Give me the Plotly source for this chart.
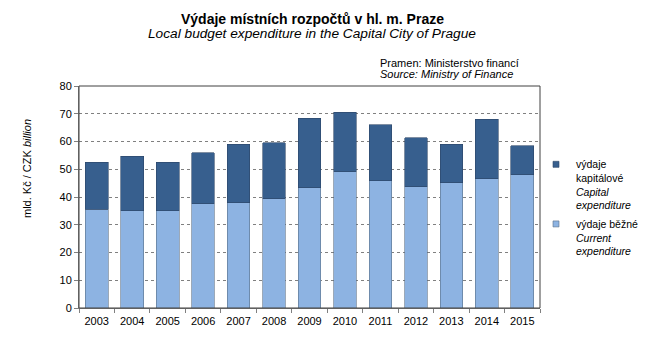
import plotly.graph_objects as go

years = [str(y) for y in range(2003, 2016)]
current = [35.5, 35.1, 35.1, 37.6, 38.0, 39.4, 43.4, 49.1, 45.9, 43.7, 45.2, 46.6, 48.1]
total = [52.6, 54.7, 52.6, 55.9, 59.1, 59.5, 68.3, 70.6, 66.0, 61.3, 59.1, 68.1, 58.4]
capital = [round(t - c, 1) for t, c in zip(total, current)]

name_current = "výdaje běžné<br><i>Current</i><br><i>expenditure</i>"
name_capital = "výdaje<br>kapitálové<br><i>Capital</i><br><i>expenditure</i>"

FONT = "Liberation Sans, Arial, sans-serif"
DARK = "#375F8E"
LIGHT = "#8DB3E2"

W, H = 646, 342
ML, MR, MT, MB = 79, 106, 86, 34

fig = go.Figure()
fig.add_trace(go.Bar(x=years, y=current, name=name_current, showlegend=False,
                     marker=dict(color=LIGHT, line=dict(color="#5a6f88", width=0.6))))
fig.add_trace(go.Bar(x=years, y=capital, name=name_capital, showlegend=False,
                     marker=dict(color=DARK, line=dict(color="#2b4466", width=0.6))))
# legend entries (small square symbols like the reference)
fig.add_trace(go.Scatter(x=[None], y=[None], mode="markers", name=name_capital, legendgroup="a",
                         marker=dict(symbol="square", size=6, color=DARK, line=dict(color="#2b4466", width=0.6))))
fig.add_trace(go.Scatter(x=[None], y=[None], mode="markers", name=name_current, legendgroup="b",
                         marker=dict(symbol="square", size=6, color=LIGHT, line=dict(color="#5a6f88", width=0.6))))

fig.update_layout(
    barmode="stack",
    bargap=0.36,
    width=W, height=H,
    margin=dict(l=ML, r=MR, t=MT, b=MB, autoexpand=False),
    paper_bgcolor="white", plot_bgcolor="white",
    font=dict(family=FONT, size=11, color="#000"),
    showlegend=True,
    legend=dict(x=(536 - ML) / (W - ML - MR), y=(H - MB - 151) / (H - MT - MB), xanchor="left", yanchor="top",
                font=dict(family=FONT, size=10.5, color="#000"), itemwidth=30,
                tracegroupgap=2, bgcolor="rgba(0,0,0,0)", valign="top"),
    xaxis=dict(type="category", showline=True, linecolor="#808080", linewidth=1,
               ticks="outside", tickson="boundaries", ticklen=4, tickcolor="#808080",
               tickangle=0, tickfont=dict(size=11), ticklabelstandoff=3, mirror=False),
    yaxis=dict(range=[0, 80], dtick=10, showline=True, linecolor="#808080", linewidth=1,
               ticks="outside", ticklen=4, tickcolor="#808080",
               showgrid=True, gridcolor="#808080", griddash="dot", gridwidth=1,
               tickfont=dict(size=11), zeroline=False),
    shapes=[dict(type="rect", xref="paper", yref="paper", x0=0, x1=1, y0=0, y1=1,
                 line=dict(color="#404040", width=1))],
)


def ann(text, xpx, ypx, size, anchor="center", angle=0):
    fig.add_annotation(text=text, xref="paper", yref="paper",
                       x=(xpx - ML) / (W - ML - MR), y=(H - MB - ypx) / (H - MT - MB),
                       xanchor=anchor, yanchor="middle", showarrow=False,
                       textangle=angle, font=dict(size=size))


ann("<b>Výdaje místních rozpočtů v hl. m. Praze</b>", 312, 19, 14)
ann("<i>Local budget expenditure in the Capital City of Prague</i>", 312, 34, 13.7)
ann("Pramen: Ministerstvo financí", 378, 63, 11, "left")
ann("<i>Source: Ministry of Finance</i>", 378, 74, 11, "left")
ann("mld. Kč / CZK <i>billion</i>", 27, 169, 11, "center", -90)

fig.write_html("out.html")
